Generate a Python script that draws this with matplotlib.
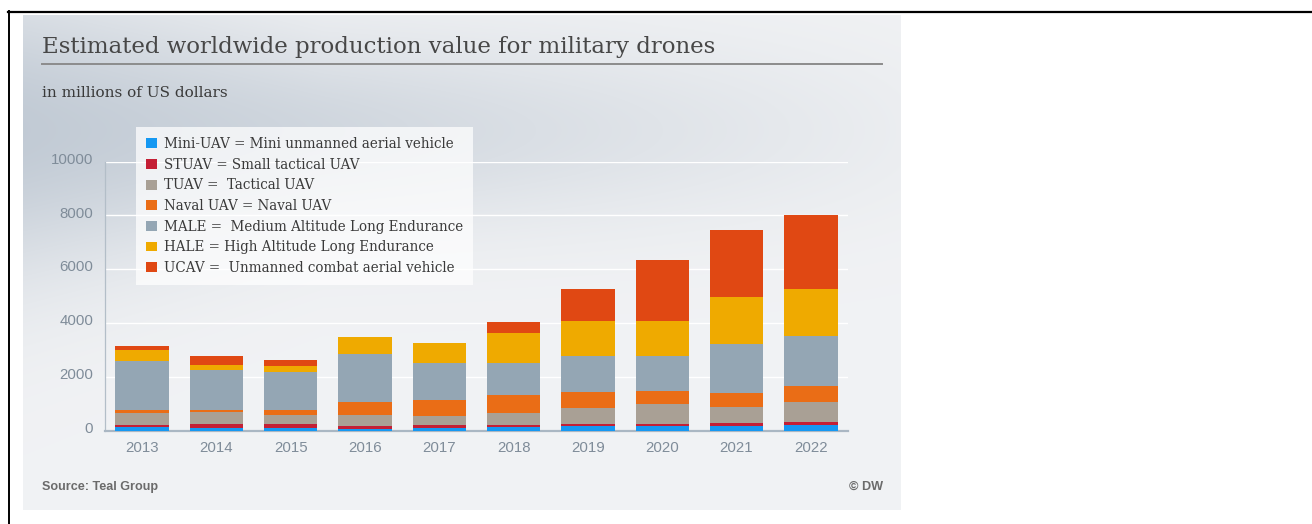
import numpy as np
import matplotlib
matplotlib.use("Agg")
import matplotlib.pyplot as plt
from matplotlib.patches import Patch
from matplotlib.lines import Line2D
import matplotlib.transforms as mtransforms

# ---------------- data ----------------
years = ["2013", "2014", "2015", "2016", "2017", "2018", "2019", "2020", "2021", "2022"]
mini_uav = [125, 110, 110, 75, 110, 135, 165, 160, 185, 220]
stuav = [75, 125, 125, 110, 90, 75, 75, 100, 90, 110]
tuav = [445, 465, 355, 395, 355, 435, 605, 715, 615, 720]
naval_uav = [125, 65, 165, 480, 570, 690, 605, 495, 505, 615]
male = [1825, 1505, 1430, 1780, 1395, 1175, 1320, 1305, 1840, 1865]
hale = [420, 160, 220, 640, 755, 1120, 1295, 1295, 1740, 1725]
ucav = [125, 360, 210, 0, 0, 420, 1195, 2285, 2480, 2780]

series = [mini_uav, stuav, tuav, naval_uav, male, hale, ucav]
series_labels = [
    "Mini-UAV = Mini unmanned aerial vehicle",
    "STUAV = Small tactical UAV",
    "TUAV =  Tactical UAV",
    "Naval UAV = Naval UAV",
    "MALE =  Medium Altitude Long Endurance",
    "HALE = High Altitude Long Endurance",
    "UCAV =  Unmanned combat aerial vehicle",
]
series_colors = ["#1598f2", "#c41f35", "#a9a095", "#ea6d16", "#94a6b4", "#efaa00", "#e04813"]
yticks = [0, 2000, 4000, 6000, 8000, 10000]
ytick_labels = ["0", "2000", "4000", "6000", "8000", "10000"]

title = "Estimated worldwide production value for military drones"
subtitle = "in millions of US dollars"
source = "Source: Teal Group"
credit = "\u00a9 DW"

# ---------------- figure ----------------
W, H = 1312, 524
fig = plt.figure(figsize=(W / 100, H / 100), dpi=100)
fig.patch.set_facecolor("white")


def fxy(px, py):
    return px / W, 1 - py / H


# background panel with gradient
px0, px1, py0, py1 = 23, 900, 15, 510
bg = fig.add_axes([px0 / W, 1 - py1 / H, (px1 - px0) / W, (py1 - py0) / H], zorder=0)
xs = np.linspace(px0, px1, 440)
ys = np.linspace(py0, py1, 250)
X, Y = np.meshgrid(xs, ys)
base = np.array([0.945, 0.950, 0.958])
dark = np.array([0.76, 0.795, 0.835])
sig = 95 + 50 * np.clip(1.0 - (X - px0) / 300, 0, 1)
w = np.exp(-((Y - 130) / sig) ** 2) * np.clip(1.0 - (X - px0) / 1000, 0, 1)
w = np.clip(w, 0, 1)
img = base[None, None, :] * (1 - w[..., None]) + dark[None, None, :] * w[..., None]
bg.imshow(img, extent=(0, 1, 0, 1), aspect="auto", interpolation="bilinear")
bg.set_xlim(0, 1)
bg.set_ylim(0, 1)
bg.axis("off")

# black border lines
fig.add_artist(Line2D([8 / W, 1], [1 - 11.7 / H] * 2, color="black", lw=1.6,
                      transform=fig.transFigure))
fig.add_artist(Line2D([8.5 / W] * 2, [1 - 11 / H, 0], color="black", lw=1.4,
                      transform=fig.transFigure))

# ---------------- main axes ----------------
ax_l, ax_r, ax_b, ax_t = 105, 848, 430.7, 161.7
ax = fig.add_axes([ax_l / W, 1 - ax_b / H, (ax_r - ax_l) / W, (ax_b - ax_t) / H], zorder=2)
ax.patch.set_alpha(0)

x = np.arange(len(years))
bottom = np.zeros(len(years))
for vals, col, lab in zip(series, series_colors, series_labels):
    v = np.array(vals, dtype=float)
    ax.bar(x, v, 0.72, bottom=bottom, color=col, label=lab, linewidth=0, zorder=3)
    bottom += v

ax.set_xlim(-0.5, len(years) - 0.5)
ax.set_ylim(0, 10000)
ax.set_yticks(yticks)
ax.set_yticklabels(ytick_labels)
ax.set_xticks(x)
ax.set_xticklabels(years)

ax.yaxis.grid(True, color="white", lw=1.0, zorder=1)
ax.set_axisbelow(True)
for s in ("top", "right"):
    ax.spines[s].set_visible(False)
ax.spines["left"].set_color("#b3bec8")
ax.spines["left"].set_linewidth(0.9)
ax.spines["bottom"].set_color("#aab7c3")
ax.spines["bottom"].set_linewidth(1.6)

ax.tick_params(axis="both", length=0, labelcolor="#7f8c99")
ax.tick_params(axis="y", pad=8.5)
ax.tick_params(axis="x", pad=7.2)
for lbl in ax.get_xticklabels() + ax.get_yticklabels():
    lbl.set_fontfamily("Liberation Sans")
    lbl.set_fontsize(10.8)
offset = mtransforms.ScaledTranslation(0, 0.035, fig.dpi_scale_trans)
for lbl in ax.get_yticklabels():
    lbl.set_transform(lbl.get_transform() + offset)

# ---------------- texts ----------------
renderer = fig.canvas.get_renderer()


def fit_width(t, target_px):
    bb = t.get_window_extent(renderer)
    if bb.width > 0:
        t.set_fontsize(t.get_fontsize() * target_px / bb.width)
    return t


tx, ty = fxy(42, 53)
t_title = fig.text(tx, ty, title, family="DejaVu Serif", size=18, color="#474747",
                   va="baseline", ha="left")
fit_width(t_title, 674)

fig.add_artist(Line2D([42 / W, 882 / W], [1 - 63.5 / H] * 2, color="#8c8c8c", lw=1.4,
                      transform=fig.transFigure))

sx, sy = fxy(42, 97)
t_sub = fig.text(sx, sy, subtitle, family="DejaVu Serif", size=10, color="#3a3a3a",
                 va="baseline", ha="left")
fit_width(t_sub, 187.5)

fx_, fy_ = fxy(42, 487)
t_src = fig.text(fx_, fy_, source, family="Liberation Sans", size=8, weight="bold",
                 color="#6b6b6b", va="center", ha="left")
fit_width(t_src, 117)
cx, cy = fxy(883, 487)
fig.text(cx, cy, credit, family="Liberation Sans", size=t_src.get_fontsize(), weight="bold",
         color="#6b6b6b", va="center", ha="right")

# ---------------- legend ----------------
tmp = fig.text(0, 0, series_labels[0], family="DejaVu Serif", size=10)
fit_width(tmp, 291.6)
leg_fs = tmp.get_fontsize()
tmp.remove()
fs_px = leg_fs * 100 / 72

handles = [Patch(facecolor=c, edgecolor="none") for c in series_colors]
lx, ly = fxy(136, 127.3)
leg = fig.legend(handles, series_labels, loc="upper left", bbox_to_anchor=(lx, ly),
                 bbox_transform=fig.transFigure, borderaxespad=0,
                 prop={"family": "DejaVu Serif", "size": leg_fs},
                 labelcolor="#3a3a3a", frameon=True, fancybox=False,
                 facecolor="white", edgecolor="none", framealpha=0.72,
                 handlelength=11.5 / fs_px, handleheight=0.75,
                 handletextpad=7.0 / fs_px, labelspacing=0.49,
                 borderpad=0.72)
leg.set_zorder(5)

fig.savefig("out.png", dpi=100, facecolor=fig.get_facecolor())
